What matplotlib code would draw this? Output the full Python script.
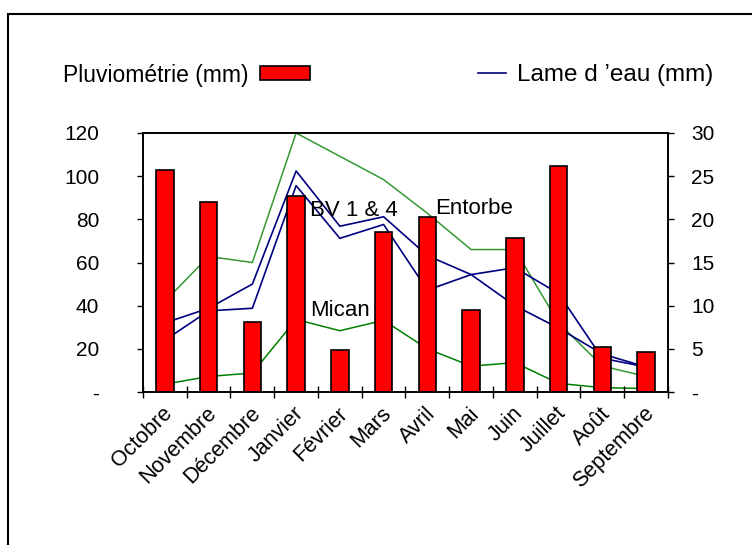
import matplotlib
matplotlib.use('Agg')
import matplotlib.pyplot as plt
from matplotlib.patches import Rectangle
from matplotlib.lines import Line2D
from matplotlib.transforms import ScaledTranslation
import numpy as np

plt.rcParams['font.family'] = ['Liberation Sans', 'DejaVu Sans']

# data
months = ['Octobre', 'Novembre', 'Décembre', 'Janvier', 'Février', 'Mars',
          'Avril', 'Mai', 'Juin', 'Juillet', 'Août', 'Septembre']
pluvio = [103, 88, 32.5, 91, 19.5, 74, 81, 38, 71.5, 104.5, 21, 18.5]

# lame d'eau (mm), secondary axis
bv_1 = [8.0, 9.7, 12.5, 25.6, 19.2, 20.3, 15.8, 13.6, 10.0, 7.4, 4.4, 2.9]
bv_4 = [6.0, 9.4, 9.7, 23.9, 17.8, 19.4, 11.8, 13.6, 14.4, 11.4, 3.9, 2.9]
entorbe = [10.5, 15.7, 15.0, 30.0, 27.3, 24.6, 20.7, 16.5, 16.5, 8.0, 3.0, 1.8]
mican = [0.9, 1.8, 2.2, 8.4, 7.1, 8.3, 5.0, 3.0, 3.4, 1.0, 0.5, 0.4]

left_ticks = [0, 20, 40, 60, 80, 100, 120]
left_labels = ['-', '20', '40', '60', '80', '100', '120']
right_ticks = [0, 5, 10, 15, 20, 25, 30]
right_labels = ['-', '5', '10', '15', '20', '25', '30']

x = np.arange(len(months))

fig = plt.figure(figsize=(7.52, 5.45), dpi=100)
ax = fig.add_axes([143 / 752, 1 - 392 / 545, 525 / 752, 259 / 545])
ax2 = ax.twinx()

# lines behind the bars
ax2.plot(x, entorbe, color='#339933', lw=1.1)
ax2.plot(x, mican, color='#008000', lw=1.1)
ax2.plot(x, bv_1, color='#000080', lw=1.2)
ax2.plot(x, bv_4, color='#000080', lw=1.2)
ax2.set_ylim(0, 30)
ax2.set_yticks(right_ticks)
ax2.set_yticklabels(right_labels, fontsize=15)
ax2.tick_params(axis='y', direction='out', length=4.5, width=1, pad=12)

bars = ax.bar(x, pluvio, width=0.4, color='#ff0000', edgecolor='black', lw=1.2)
ax.set_zorder(ax2.get_zorder() + 1)
ax.patch.set_visible(False)
ax.set_xlim(-0.5, 11.5)
ax.set_ylim(0, 120)
ax.set_yticks(left_ticks)
ax.set_yticklabels(left_labels, fontsize=15)
ax.tick_params(axis='y', direction='out', length=4.5, width=1, pad=27)

ax.set_xticks(x)
ax.set_xticklabels(months, fontsize=15.5, rotation=45, ha='right', va='top',
                   rotation_mode='anchor')
ax.tick_params(axis='x', which='major', length=0, pad=8)
ax.set_xticks(np.arange(-0.5, 12, 1), minor=True)
ax.tick_params(axis='x', which='minor', direction='inout', length=9, width=1)
for lab in ax.get_xticklabels():
    lab.set_transform(lab.get_transform() + ScaledTranslation(-2 / 72, 0, fig.dpi_scale_trans))

for a in (ax, ax2):
    for s in a.spines.values():
        s.set_linewidth(1.2)
        s.set_color('black')

# series labels
ax2.text(3.32, 21.0, 'BV 1 & 4', fontsize=16, va='center', ha='left')
ax2.text(6.17, 21.2, 'Entorbe', fontsize=16, va='center', ha='left')
ax2.text(3.32, 9.4, 'Mican', fontsize=16, va='center', ha='left')

# legends
leg1 = fig.legend([bars], ['Pluviométrie (mm)'], loc='center left',
                  bbox_to_anchor=(63 / 752, 1 - 75 / 545), markerfirst=False,
                  frameon=False, fontsize=16.5, borderpad=0, borderaxespad=0,
                  handlelength=2.2, handleheight=0.55, handletextpad=0.5)
leg2 = fig.legend([Line2D([], [], color='#000080', lw=1.2)], ["Lame d \u2019eau (mm)"],
                  loc='center left', bbox_to_anchor=(478 / 752, 1 - 75 / 545),
                  frameon=False, fontsize=17.5, borderpad=0, borderaxespad=0,
                  handlelength=1.15, handletextpad=0.45)

# outer frame
fig.add_artist(Rectangle((8 / 752, -0.1), 1.0, 1 - 14 / 545 + 0.1,
                         transform=fig.transFigure, fill=False, lw=1.5, ec='black'))

fig.savefig('out.png', dpi=100)
